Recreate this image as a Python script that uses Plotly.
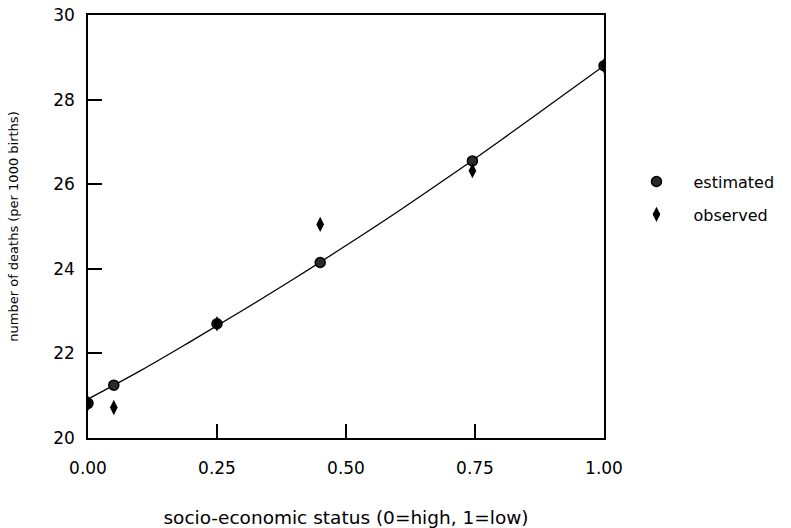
import plotly.graph_objects as go

# Data
ses_points = [0.0, 0.05, 0.25, 0.45, 0.745, 1.0]
estimated = [20.82, 21.25, 22.70, 24.15, 26.55, 28.80]
observed = [20.82, 20.72, 22.70, 25.05, 26.32, 28.80]

curve_x = [0.0, 0.1, 0.2, 0.3, 0.4, 0.5, 0.6, 0.7, 0.8, 0.9, 1.0]
curve_y = [20.92, 21.58, 22.29, 23.02, 23.77, 24.55, 25.35, 26.18, 27.04, 27.92, 28.80]

x_ticks = [0.0, 0.25, 0.5, 0.75, 1.0]
y_ticks = [20, 22, 24, 26, 28, 30]

FONT = "DejaVu Sans, Verdana, sans-serif"

fig = go.Figure()
fig.add_trace(go.Scatter(
    x=curve_x, y=curve_y, mode="lines", line=dict(color="black", width=1.3, shape="spline"),
    showlegend=False, hoverinfo="skip"))
fig.add_trace(go.Scatter(
    x=ses_points, y=estimated, mode="markers", name="estimated",
    marker=dict(symbol="circle", size=10, color="#2a2a2a", line=dict(color="black", width=1.5)),
    legendgroup="a"))
fig.add_trace(go.Scatter(
    x=ses_points, y=observed, mode="markers", name="observed",
    marker=dict(symbol="diamond-tall", size=11, color="black", line=dict(width=0)),
    legendgroup="b"))

fig.update_layout(
    width=791, height=528,
    margin=dict(l=88, r=185, t=15, b=90),
    paper_bgcolor="white", plot_bgcolor="white",
    font=dict(family=FONT, color="black", size=17),
    legend=dict(x=1.03, y=0.567, xanchor="left", yanchor="middle",
                font=dict(size=16, family=FONT), tracegroupgap=9, itemwidth=64,
                traceorder="grouped", bgcolor="rgba(0,0,0,0)"),
    xaxis=dict(
        range=[0, 1], tickvals=x_ticks, tickformat=".2f", automargin=False,
        ticks="inside", ticklen=14, tickwidth=1.5, tickcolor="black",
        showline=True, linecolor="black", linewidth=1.5, mirror=True,
        showgrid=False, zeroline=False, ticklabelstandoff=14,
        tickfont=dict(size=17),
        title=dict(text="socio-economic status (0=high, 1=low)", font=dict(size=18.5), standoff=36),
    ),
    yaxis=dict(
        range=[20, 30], tickvals=y_ticks, automargin=False,
        ticks="inside", ticklen=14, tickwidth=1.5, tickcolor="black",
        showline=True, linecolor="black", linewidth=1.5, mirror=True,
        showgrid=False, zeroline=False, ticklabelstandoff=8,
        tickfont=dict(size=17),
        title=dict(text="number of deaths (per 1000 births)", font=dict(size=13), standoff=32),
    ),
)

fig.write_html("out.html", config={"displayModeBar": False},
               post_script="document.body.style.margin='0px';")
